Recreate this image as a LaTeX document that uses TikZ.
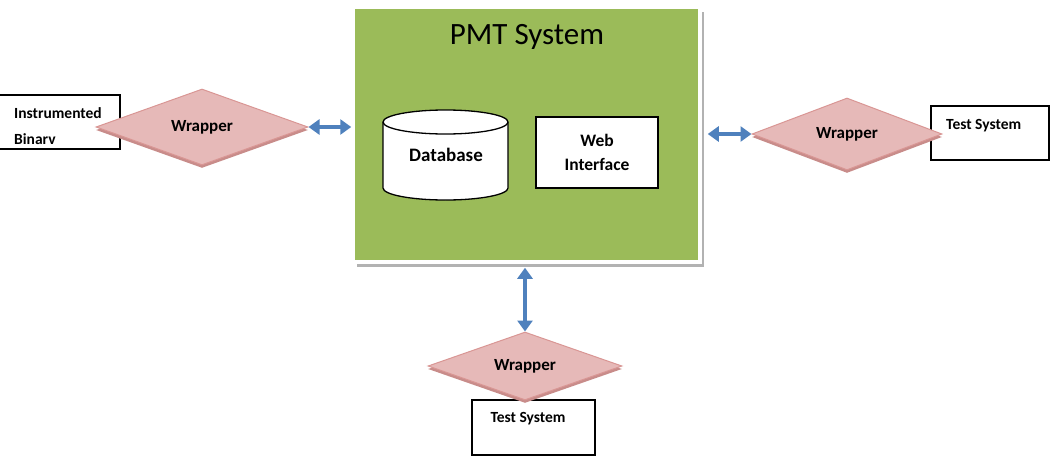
\documentclass[tikz,border=0pt]{standalone}
\usepackage{fontspec}
\setmainfont{Carlito}
\usepackage{tikz}
\usepackage{xcolor}
\usetikzlibrary{arrows.meta}
\usetikzlibrary{shapes.geometric}
\usetikzlibrary{shadows}

\definecolor{pmtgreen}{RGB}{155,187,89}
\definecolor{wrapfill}{RGB}{230,185,184}
\definecolor{wrapline}{RGB}{217,150,148}
\definecolor{wrapshade}{RGB}{200,140,138}
\definecolor{linkblue}{RGB}{79,129,189}

\begin{document}
\begin{tikzpicture}[x=1pt, y=-1pt]

				\useasboundingbox (0,0) rectangle (1051,458);

				\tikzstyle{box}=[draw=black, line width=1.3pt, fill=white, rectangle, inner sep=0pt]
				\tikzstyle{wrap}=[diamond, draw=wrapline, line width=1pt, fill=wrapfill, inner sep=0pt,
					drop shadow={shadow xshift=0pt, shadow yshift=-3pt, fill=wrapshade, opacity=1},
					font=\fontsize{17}{20}\selectfont\bfseries]
				\tikzstyle{txt}=[inner sep=0pt, font=\fontsize{15.5}{26}\selectfont\bfseries, align=left]
				\tikzstyle{link}=[linkblue, line width=4pt, {Triangle[length=11pt,width=15pt]}-{Triangle[length=11pt,width=15pt]}]

				% pmt system
				\node[rectangle, fill=pmtgreen, draw=white, line width=3.5pt, minimum width=347, minimum height=255,
					drop shadow={shadow xshift=4pt, shadow yshift=-5pt, fill=black!30, opacity=1}] (pmt) at (526.5,134.5) {};
				\node[inner sep=0pt, font=\fontsize{31}{36}\selectfont] (pmttitle) at (527,37) {PMT System};

				% database drum
				\draw[line width=1.3pt, fill=white] (383,122) -- (383,188)
					arc[start angle=180, end angle=360, x radius=62.5pt, y radius=12pt] -- (508,122)
					arc[start angle=0, end angle=180, x radius=62.5pt, y radius=12pt] -- cycle;
				\draw[line width=1.3pt] (383,122) arc[start angle=180, end angle=360, x radius=62.5pt, y radius=12pt];
				\node[inner sep=0pt, font=\fontsize{19}{22}\selectfont\bfseries] (db) at (446,155) {Database};

				\node[box, minimum width=122, minimum height=71, align=center, font=\fontsize{17.5}{24}\selectfont\bfseries] (web) at (597,152.5) {Web\\Interface};

				% left side
				\node[box, minimum width=124, minimum height=54] (binary) at (58,122) {};
				\node[txt, anchor=west] (binarytxt) at (14,126) {Instrumented\\Binarv};
				\node[wrap, aspect=2.8, minimum width=212, minimum height=76] (wrapL) at (202,127) {Wrapper};

				% right side
				\node[box, minimum width=118, minimum height=54] (testR) at (990,133) {};
				\node[txt, anchor=west] (testRtxt) at (946,126) {Test System};
				\node[wrap, aspect=2.6, minimum width=190, minimum height=72] (wrapR) at (847,134) {Wrapper};

				% bottom
				\node[box, minimum width=123, minimum height=55] (testB) at (533.5,427.5) {};
				\node[txt] (testBtxt) at (528,419) {Test System};
				\node[wrap, aspect=2.85, minimum width=194, minimum height=68] (wrapB) at (525,366) {Wrapper};

				\draw[link] (wrapL.east) -- (wrapL.east -| pmt.west);
				\draw[link, shorten <=6pt] (pmt.east |- wrapR.west) -- (wrapR.west);
				\draw[link, shorten <=4pt] (wrapB.north |- pmt.south) -- (wrapB.north);

\end{tikzpicture}
\end{document}
